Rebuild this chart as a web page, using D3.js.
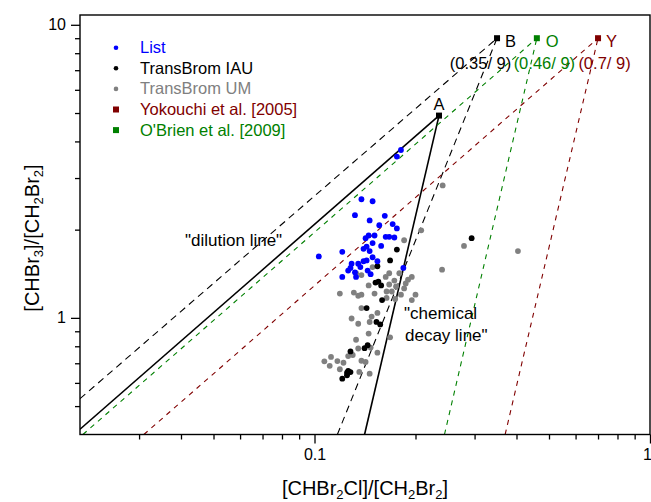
<!DOCTYPE html>
<html><head><meta charset="utf-8">
<script src="https://cdn.jsdelivr.net/npm/d3@7/dist/d3.min.js"></script>
<style>body{margin:0;background:#fff}svg{display:block;font-family:Arial,"Liberation Sans",sans-serif}</style>
</head><body><svg id="c" width="651" height="502"></svg>
<script>
// ---------- data ----------
const listPoints = [
  [0.181,3.74],[0.176,3.55],[0.138,2.54],[0.149,2.50],[0.132,2.24],[0.162,2.23],[0.146,2.15],
  [0.156,2.07],[0.171,2.09],[0.176,2.02],[0.145,1.91],[0.142,1.87],[0.151,1.91],[0.163,1.89],
  [0.167,1.89],[0.173,1.88],[0.149,1.80],[0.158,1.76],[0.143,1.75],[0.140,1.72],[0.146,1.69],
  [0.121,1.68],[0.103,1.62],[0.149,1.61],[0.143,1.57],[0.140,1.56],[0.154,1.56],[0.129,1.53],
  [0.135,1.53],[0.137,1.49],[0.128,1.48],[0.126,1.45],[0.132,1.43],[0.144,1.45],[0.147,1.41],
  [0.121,1.38],[0.133,1.38],[0.184,1.48]
];
const iauPoints = [
  [0.294,1.87],[0.176,1.71],[0.168,1.57],[0.154,1.50],[0.152,1.32],[0.155,1.33],[0.158,1.29],
  [0.159,1.15],[0.143,1.08],[0.153,0.969],[0.157,0.950],[0.144,0.807],[0.141,0.788],[0.128,0.768],
  [0.126,0.659],[0.125,0.650],[0.128,0.653],[0.125,0.637],[0.121,0.620]
];
const umPoints = [
  [0.241,2.83],[0.208,1.99],[0.185,1.84],[0.279,1.76],[0.404,1.69],[0.240,1.46],[0.149,1.49],
  [0.138,1.40],[0.133,1.42],[0.167,1.42],[0.179,1.42],[0.163,1.38],[0.195,1.38],[0.173,1.34],
  [0.190,1.35],[0.187,1.31],[0.145,1.29],[0.167,1.30],[0.175,1.28],[0.185,1.26],[0.164,1.23],
  [0.170,1.23],[0.181,1.20],[0.200,1.20],[0.119,1.21],[0.131,1.22],[0.135,1.19],[0.138,1.20],
  [0.151,1.21],[0.164,1.17],[0.174,1.16],[0.195,1.15],[0.138,1.08],[0.154,1.04],[0.148,1.01],
  [0.129,0.995],[0.135,0.955],[0.146,0.968],[0.168,0.858],[0.145,0.884],[0.133,0.842],[0.135,0.786],
  [0.147,0.792],[0.154,0.761],[0.130,0.747],[0.126,0.741],[0.112,0.736],[0.107,0.711],[0.117,0.712],
  [0.122,0.703],[0.138,0.714],[0.142,0.707],[0.111,0.686],[0.119,0.668],[0.136,0.654],[0.146,0.645]
];
// end members (CHBr2Cl/CH2Br2 , CHBr3/CH2Br2)
const memberIds = ["A","B","O","Y"];
const memberX = [0.235, 0.35, 0.46, 0.7];
const memberY = [4.9, 9, 9, 9];
const memberLabels = ["", "(0.35/ 9)", "(0.46/ 9)", "(0.7/ 9)"];
// dilution-line low ends and chemical-decay-line low ends
const dilutionEnds = [[0.02,0.417],[0.02,0.53],[0.0204,0.4],[0.031,0.4]];
const decayEnds = [[0.141,0.4],[0.117,0.4],[0.244,0.4],[0.37,0.4]];
const legendNames = ["List","TransBrom IAU","TransBrom UM","Yokouchi et al. [2005]","O'Brien et al. [2009]"];
const xMajor = [0.1, 1];
const xMinor = [0.03,0.04,0.05,0.06,0.07,0.08,0.09,0.2,0.3,0.4,0.5,0.6,0.7,0.8,0.9];
const yMajor = [1, 10];
const yMinor = [0.5,0.6,0.7,0.8,0.9,2,3,4,5,6,7,8,9];

// ---------- styles ----------
const C = {blue:"#0000ff", black:"#000000", gray:"#808080", red:"#800000", green:"#008000"};
const memberColor = [C.black, C.black, C.green, C.red];
const memberDash = [null, "7,5", "5,5", "5,5"];
const legendColors = [C.blue, C.black, C.gray, C.red, C.green];
const legendShape = ["dot","dot","dot","sq","sq"];

const L = 80, R = 650, T = 15, B = 434.5;
const svg = d3.select("#c");
const x = d3.scaleLog().domain([0.02, 1]).range([L, R]);
const y = d3.scaleLog().domain([0.4, 10.8]).range([B, T]);

svg.append("defs").append("clipPath").attr("id","clip")
  .append("rect").attr("x",L).attr("y",T).attr("width",R-L).attr("height",B-T);

// axes
function styleAxis(g){
  g.select(".domain").remove();
  g.selectAll(".tick line").attr("stroke","#000").attr("stroke-width",1.3);
  g.selectAll(".tick text").attr("font-size",16).attr("fill","#000").attr("font-family","Arial, 'Liberation Sans', sans-serif");
}
svg.append("g").attr("transform",`translate(0,${B})`)
  .call(d3.axisBottom(x).tickValues(xMinor).tickSize(5).tickFormat(""))
  .call(styleAxis);
const xMaj = svg.append("g").attr("transform",`translate(0,${B})`)
  .call(d3.axisBottom(x).tickValues(xMajor).tickSize(9).tickPadding(5).tickFormat(d3.format("")))
  .call(styleAxis);
xMaj.selectAll(".tick text").filter(d => d === 1).attr("dx", -3);
svg.append("g").attr("transform",`translate(${L},0)`)
  .call(d3.axisLeft(y).tickValues(yMinor).tickSize(5).tickFormat(""))
  .call(styleAxis);
svg.append("g").attr("transform",`translate(${L},0)`)
  .call(d3.axisLeft(y).tickValues(yMajor).tickSize(9).tickPadding(5).tickFormat(d3.format("")))
  .call(styleAxis);

const plot = svg.append("g").attr("clip-path","url(#clip)");
const line = d3.line().x(d => x(d[0])).y(d => y(d[1]));

// lines
memberIds.forEach((id,i) => {
  const top = [memberX[i], memberY[i]];
  [dilutionEnds[i], decayEnds[i]].forEach(end => {
    plot.append("path").attr("d", line([end, top]))
      .attr("fill","none").attr("stroke", memberColor[i])
      .attr("stroke-width", i===0 ? 1.6 : 1.1)
      .attr("stroke-dasharray", memberDash[i]);
  });
});

// scatter
function dots(data, color){
  plot.append("g").selectAll("circle").data(data).join("circle")
    .attr("cx", d => x(d[0])).attr("cy", d => y(d[1])).attr("r", 2.9).attr("fill", color);
}
dots(umPoints, C.gray);
dots(iauPoints, C.black);
dots(listPoints, C.blue);

// member squares
memberIds.forEach((id,i) => {
  svg.append("rect").attr("x", x(memberX[i])-3).attr("y", y(memberY[i])-3)
    .attr("width",6).attr("height",6).attr("fill", memberColor[i]);
});
// member labels
svg.append("text").attr("x", x(memberX[0])).attr("y", y(memberY[0])-6)
  .attr("text-anchor","middle").attr("font-size",16.5).text(memberIds[0]);
const idDx = [0, 8, 9, 8];
const ratioDx = [0, -16.5, 7.5, 6.5];
for (let i = 1; i < 4; i++) {
  svg.append("text").attr("x", x(memberX[i])+idDx[i]).attr("y", y(memberY[i])+8.5)
    .attr("font-size",16.5).attr("fill", memberColor[i]).text(memberIds[i]);
  svg.append("text").attr("x", x(memberX[i])+ratioDx[i]).attr("y", y(memberY[i])+31)
    .attr("text-anchor","middle").attr("font-size",16.5).attr("fill", memberColor[i]).text(memberLabels[i]);
}

// annotations
svg.append("text").attr("x",185).attr("y",246).attr("font-size",17).text('"dilution line"');
svg.append("text").attr("x",404).attr("y",319).attr("font-size",17).text('"chemical');
svg.append("text").attr("x",405).attr("y",341).attr("font-size",17).text('decay line"');

// legend
legendNames.forEach((name,i) => {
  const cy = 47.7 + i*20.6;
  if (legendShape[i] === "dot")
    svg.append("circle").attr("cx",116).attr("cy",cy).attr("r",2.3).attr("fill",legendColors[i]);
  else
    svg.append("rect").attr("x",113).attr("y",cy-3).attr("width",6).attr("height",6).attr("fill",legendColors[i]);
  svg.append("text").attr("x",140).attr("y",cy+5.5).attr("font-size",16.5)
    .attr("fill",legendColors[i]).text(name);
});

// frame
svg.append("rect").attr("x",L).attr("y",T).attr("width",R-L).attr("height",B-T)
  .attr("fill","none").attr("stroke","#000").attr("stroke-width",1.4);

// axis titles
function subTitle(t, parts){
  parts.forEach(p => {
    const ts = t.append("tspan").text(p[0]);
    if (p[1] === "sub") ts.attr("font-size",13).attr("dy",4);
    else if (p[1] === "back") ts.attr("dy",-4);
  });
}
const xt = svg.append("text").attr("x",(L+R)/2).attr("y",495).attr("text-anchor","middle").attr("font-size",20);
subTitle(xt, [["[CHBr"],["2","sub"],["Cl]/[CH","back"],["2","sub"],["Br","back"],["2","sub"],["]","back"]]);
const yt = svg.append("text").attr("transform","translate(39,238) rotate(-90)").attr("text-anchor","middle").attr("font-size",20);
subTitle(yt, [["[CHBr"],["3","sub"],["]/[CH","back"],["2","sub"],["Br","back"],["2","sub"],["]","back"]]);
</script></body></html>
